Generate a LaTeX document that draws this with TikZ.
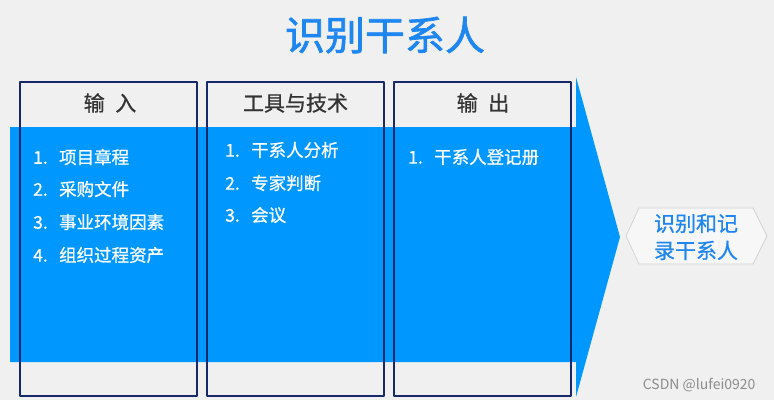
\documentclass[tikz,border=0pt]{standalone}
\usepackage{fontspec}
\setmainfont{Noto Sans CJK SC}
\newfontfamily\heavycjk{Noto Sans CJK SC}[FakeBold=1.6]
\newfontfamily\midcjk{Noto Sans CJK SC}[FakeBold=0.8]
\definecolor{pagegray}{HTML}{F0F0F0}
\definecolor{bandblue}{HTML}{0097FF}
\definecolor{titleblue}{HTML}{1E86F0}
\definecolor{boxnavy}{HTML}{17296B}
\definecolor{headgray}{HTML}{333333}
\tikzset{
  colbox/.style={draw=boxnavy, line width=1.6pt},
  head/.style={text=headgray, font=\midcjk\fontsize{21}{23}\selectfont},
  item/.style={anchor=west, text=white, font=\midcjk\fontsize{17.5}{20}\selectfont, inner sep=0pt},
}
\begin{document}
\begin{tikzpicture}[x=1pt, y=-1pt, line join=round]
\fill[pagegray] (0,0) rectangle (774,400);
\useasboundingbox (0,0) rectangle (774,400);

\node[text=titleblue, font=\heavycjk\fontsize{40}{44}\selectfont] (title) at (385,35) {识别干系人};

\fill[bandblue] (10,127) -- (576,127) -- (576,77) -- (620,237) -- (576,397) -- (576,362) -- (10,362) -- cycle;

\foreach \x in {20,207,394}
\draw[colbox] (\x,82) rectangle ++(177,314);

\node[head] (in) at (110,103) {输\hspace{.5em}入};
\node[head] (tt) at (295.5,103) {工具与技术};
\node[head] (out) at (483,103) {输\hspace{.5em}出};

\foreach \n/\x/\y/\k/\t in {i1/33/157/1/项目章程,i2/33/189/2/采购文件,i3/33/222/3/事业环境因素,i4/33/255/4/组织过程资产,
  t1/225/150/1/干系人分析,t2/225/183/2/专家判断,t3/225/215/3/会议,o1/408/157/1/干系人登记册}
\node[item] (\n) at (\x,\y) {\k.\hspace{.65em}\t};

\draw[draw=black!18, fill=black!3, line width=.7pt]
(626,236) -- (639,208) -- (753,208) -- (767,236) -- (753,264) -- (639,264) -- cycle;
\node[text=titleblue, align=center, font=\midcjk\fontsize{21}{27}\selectfont] (res) at (696,237) {识别和记\\录干系人};

\node[text=black!45, font=\fontsize{14}{16}\selectfont, anchor=east] (mark) at (759,385) {CSDN @lufei0920};
\end{tikzpicture}
\end{document}
